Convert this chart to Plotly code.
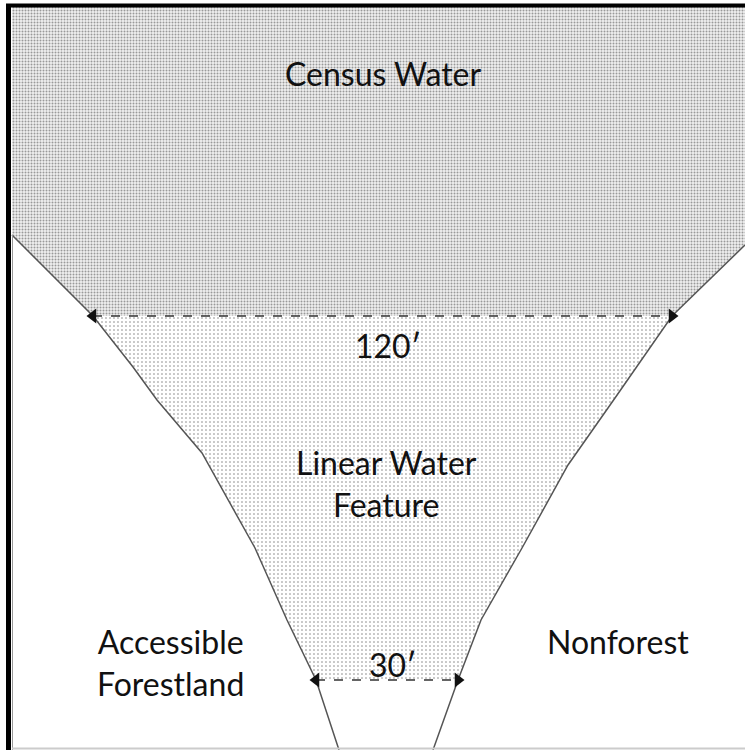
import plotly.graph_objects as go

# Diagram geometry (pixel-like units, y downward)
left_bank_x = [12, 93, 133, 157, 202, 255, 287, 316, 339]
left_bank_y = [235, 316, 367, 400, 453, 548, 620, 680, 750]
right_bank_x = [745, 672, 615, 568, 522, 481, 458, 433]
right_bank_y = [245, 316, 398, 465, 548, 620, 680, 750]

census_x = [12, 745, 745, 672, 93, 12]
census_y = [7, 7, 245, 316, 316, 235]

linear_x = [93, 672, 615, 568, 522, 481, 458, 316, 287, 255, 202, 157, 133, 93]
linear_y = [316, 316, 398, 465, 548, 620, 680, 680, 620, 548, 453, 400, 367, 316]

arrow_wide_x = [93, 672]
arrow_wide_y = [316, 316]
arrow_narrow_x = [316, 458]
arrow_narrow_y = [680, 680]

labels = ["Census Water", "120′", "Linear Water<br>Feature", "Accessible<br>Forestland", "Nonforest", "30′"]
label_x = [383, 388, 386, 170, 618, 393]
label_y = [73, 345, 483, 662, 641, 664]

fig = go.Figure()

fig.add_trace(go.Scatter(
    x=census_x, y=census_y, fill="toself", mode="lines",
    line=dict(width=0, color="rgba(0,0,0,0)"),
    fillpattern=dict(shape=".", size=3, solidity=0.35, fgcolor="#444444", bgcolor="#efefef"),
    hoverinfo="skip", showlegend=False))

fig.add_trace(go.Scatter(
    x=linear_x, y=linear_y, fill="toself", mode="lines",
    line=dict(width=0, color="rgba(0,0,0,0)"),
    fillpattern=dict(shape=".", size=4, solidity=0.12, fgcolor="#000000", bgcolor="#ffffff"),
    hoverinfo="skip", showlegend=False))

for bx, by in [(left_bank_x, left_bank_y), (right_bank_x, right_bank_y)]:
    fig.add_trace(go.Scatter(x=bx, y=by, mode="lines",
                             line=dict(color="#555555", width=1.5),
                             hoverinfo="skip", showlegend=False))

for ax_, ay_ in [(arrow_wide_x, arrow_wide_y), (arrow_narrow_x, arrow_narrow_y)]:
    fig.add_trace(go.Scatter(x=ax_, y=ay_, mode="lines",
                             line=dict(color="#333333", width=1.5, dash="dash"),
                             hoverinfo="skip", showlegend=False))
    fig.add_trace(go.Scatter(x=ax_, y=ay_, mode="markers",
                             marker=dict(symbol=["triangle-left", "triangle-right"], size=13,
                                         color="#111111"),
                             hoverinfo="skip", showlegend=False))

# Frame lines
fig.add_shape(type="line", x0=8.5, x1=8.5, y0=4, y1=750, line=dict(color="black", width=5))
fig.add_shape(type="line", x0=6, x1=745, y0=5.5, y1=5.5, line=dict(color="black", width=4))
fig.add_shape(type="line", x0=12.5, x1=12.5, y0=235, y1=750, line=dict(color="#9a9a9a", width=1))
fig.add_shape(type="line", x0=12, x1=745, y0=748.5, y1=748.5, line=dict(color="#cccccc", width=2))

for t, x, y in zip(labels, label_x, label_y):
    fig.add_annotation(x=x, y=y, text=t, showarrow=False,
                       font=dict(family="Lato", size=32, color="#111111"),
                       xanchor="center", yanchor="middle")

fig.update_layout(
    width=745, height=750,
    margin=dict(l=0, r=0, t=0, b=0),
    paper_bgcolor="white", plot_bgcolor="white",
    xaxis=dict(range=[0, 745], visible=False, fixedrange=True),
    yaxis=dict(range=[750, 0], visible=False, fixedrange=True),
)

fig.write_html("out.html", post_script="document.body.style.margin='0';",
               config={"displayModeBar": False})
